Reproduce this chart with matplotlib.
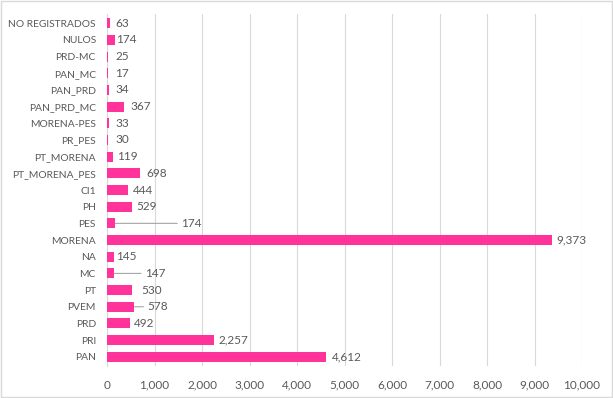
import numpy as np
import matplotlib.pyplot as plt

plt.rcParams['font.family'] = ['Lato', 'DejaVu Sans']

partidos = ['PAN', 'PRI', 'PRD', 'PVEM', 'PT', 'MC', 'NA', 'MORENA', 'PES', 'PH',
            'CI1', 'PT_MORENA_PES', 'PT_MORENA', 'PR_PES', 'MORENA-PES',
            'PAN_PRD_MC', 'PAN_PRD', 'PAN_MC', 'PRD-MC', 'NULOS', 'NO REGISTRADOS']
votos = [4612, 2257, 492, 578, 530, 147, 145, 9373, 174, 529,
         444, 698, 119, 30, 33, 367, 34, 17, 25, 174, 63]
# desplazamiento de etiquetas (pixeles) como en el original
desp = [6, 4, 4, 13, 9, 31, 2, 4, 66, 4,
        5, 6, 4, 7, 7, 6, 7, 7, 7, 1, 5]
con_linea = ['PES', 'MC', 'PVEM']
ticks_x = np.arange(0, 10001, 1000)

gris = '#595959'
rosa = '#FF3399'

fig = plt.figure(figsize=(6.13, 3.98), dpi=100)
ax = fig.add_axes([107/613, 1 - 366/398, 475/613, 352/398])

y = np.arange(len(partidos))
ax.barh(y, votos, height=0.6, color=rosa, zorder=3)

for i, (p, v) in enumerate(zip(partidos, votos)):
    ann = ax.annotate(f'{v:,}', xy=(v, i), xytext=(desp[i], 0),
                      textcoords='offset pixels', va='center', ha='left',
                      fontsize=8.5, color=gris)
    if p in con_linea:
        ax.annotate('', xy=(v, i), xytext=(desp[i] - 4, 0),
                    textcoords='offset pixels',
                    arrowprops=dict(arrowstyle='-', color='#A6A6A6', lw=0.8,
                                    shrinkA=0, shrinkB=0))

ax.set_yticks(y)
ax.set_yticklabels(partidos)
ax.set_ylim(-0.55, len(partidos) - 0.45)
ax.set_xlim(0, 10000)
ax.set_xticks(ticks_x)
ax.set_xticklabels([f'{t:,}' for t in ticks_x])
ax.tick_params(axis='both', length=0, colors=gris)
ax.tick_params(axis='x', pad=10, labelsize=8.5)
ax.tick_params(axis='y', pad=8, labelsize=7.4)
ax.grid(axis='x', color='#D9D9D9', lw=0.8, zorder=0)
for s in ['top', 'right', 'bottom']:
    ax.spines[s].set_visible(False)
ax.spines['left'].set_color('#D9D9D9')

fig.patches.append(plt.Rectangle((0.5/613, 1/398), 611.5/613, 396.5/398,
                                 transform=fig.transFigure,
                                 fill=False, edgecolor='#D9D9D9', lw=1))

fig.savefig('out.png', dpi=100)
